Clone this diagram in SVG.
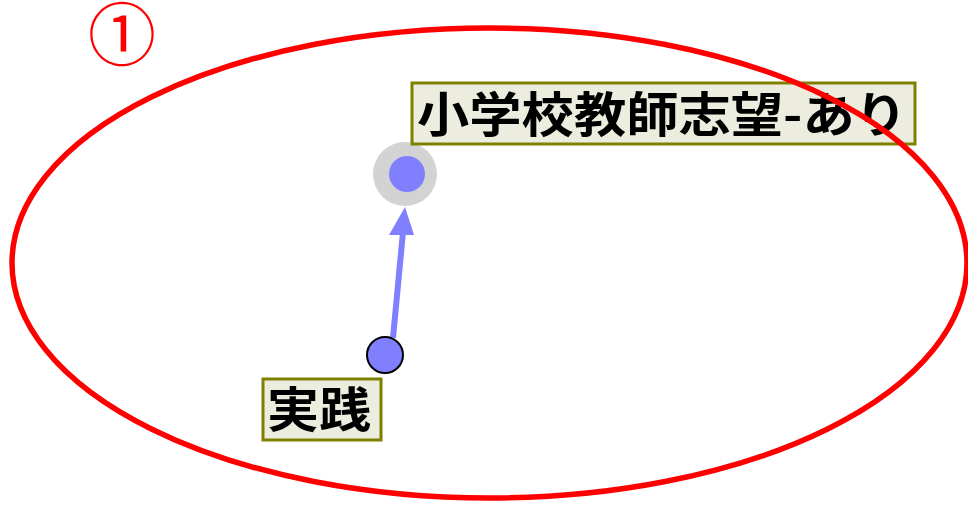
<svg xmlns="http://www.w3.org/2000/svg" width="968" height="505" viewBox="0 0 968 505">
<style>
.lbl{fill:#ECECDF;stroke:#808000;stroke-width:3}
.t{font-family:"Noto Sans CJK JP","Noto Sans CJK SC",sans-serif;font-size:48px;font-weight:bold;fill:#000}
.edge{stroke:#8080FF;stroke-width:6;fill:none}
</style>
<g id="connectors">
<line class="edge" x1="393" y1="338" x2="403" y2="232"/>
<polygon points="405,207 389,235 414,235" fill="#8080FF"/>
</g>
<g id="node-top">
<circle cx="405" cy="174" r="32" fill="#D3D3D3"/>
<circle cx="407" cy="174" r="18" fill="#8080FF"/>
<rect class="lbl" x="412" y="83" width="503" height="61"/>
<text class="t" x="417" y="132" textLength="490" lengthAdjust="spacingAndGlyphs">小学校教師志望-あり</text>
</g>
<g id="node-bottom">
<circle cx="385" cy="355" r="18" fill="#8080FF" stroke="#000" stroke-width="2"/>
<rect class="lbl" x="263" y="379" width="118" height="61"/>
<text class="t" x="267" y="427" textLength="104" lengthAdjust="spacingAndGlyphs">実践</text>
</g>
<g id="region">
<ellipse cx="489.5" cy="263" rx="477.5" ry="235" fill="none" stroke="#FF0000" stroke-width="5.5"/>
<text x="122" y="60" text-anchor="middle" font-family="Noto Sans CJK JP, sans-serif" font-size="68" fill="#FF0000">①</text>
</g>
</svg>
